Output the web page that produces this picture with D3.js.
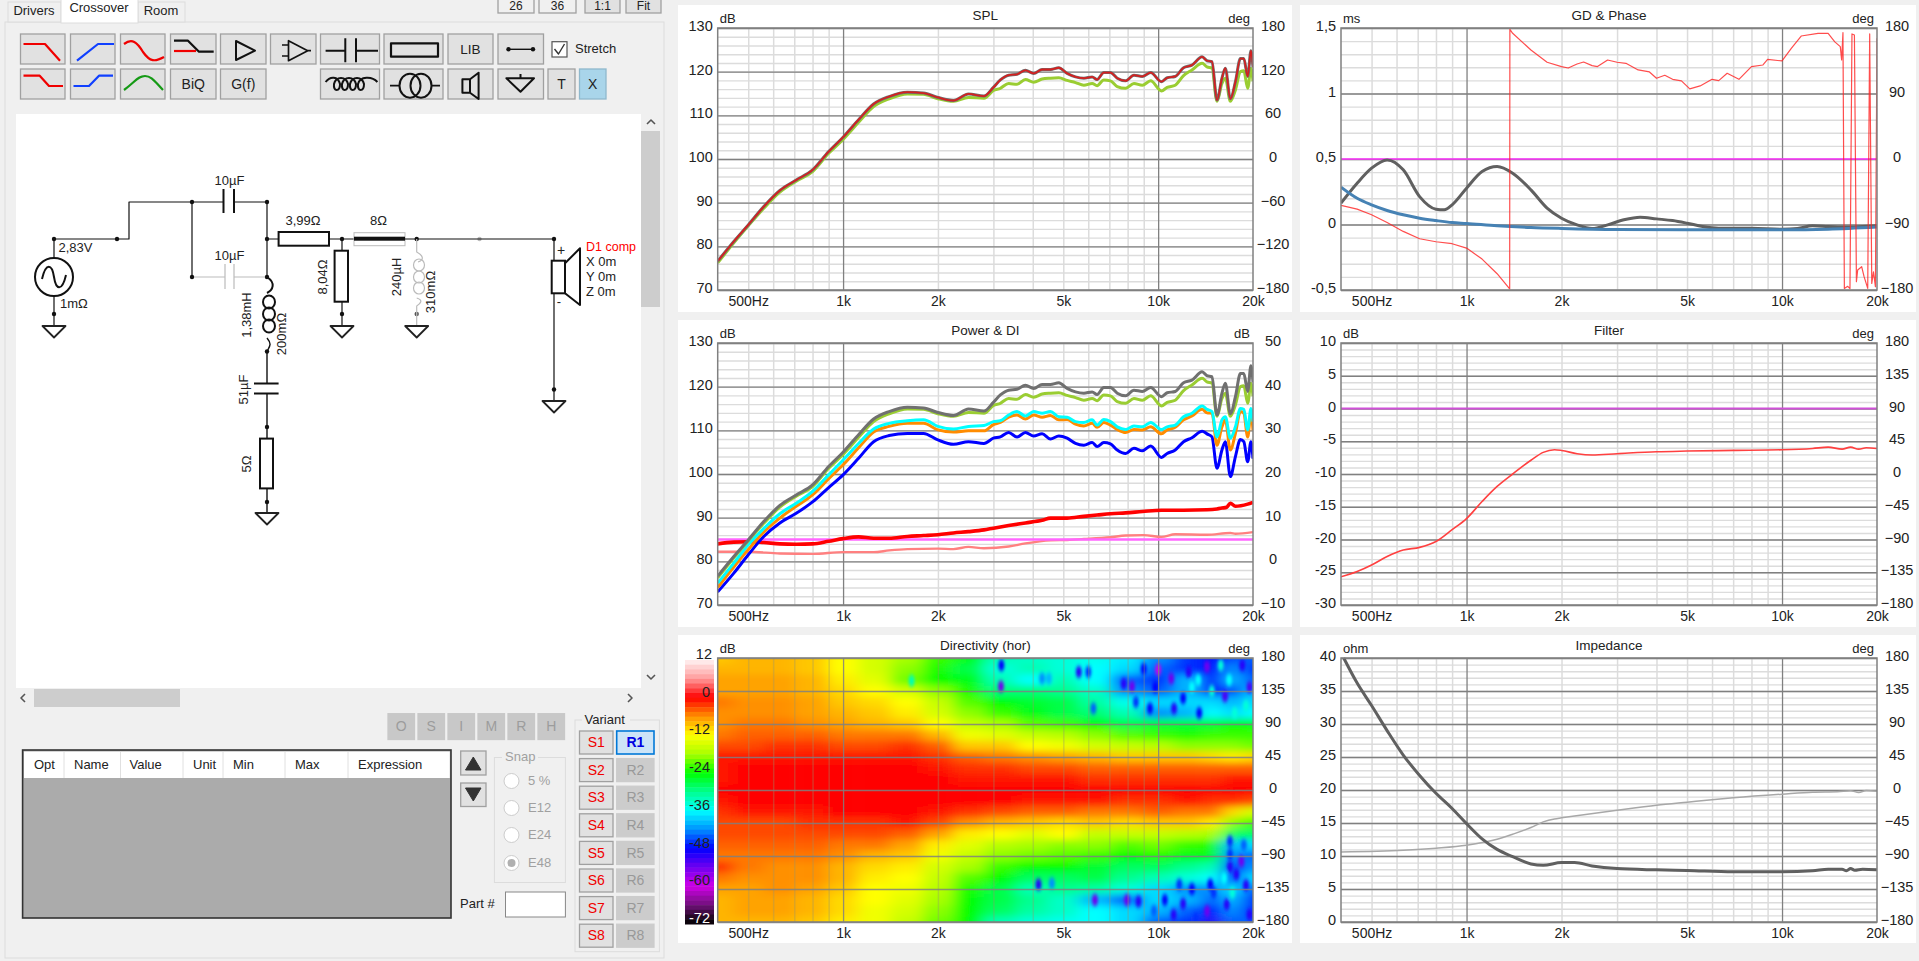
<!DOCTYPE html>
<html>
<head>
<meta charset="utf-8">
<script src="https://cdn.jsdelivr.net/npm/d3@7"></script>
<style>
  html, body { margin: 0; padding: 0; background: #f0f0f0; overflow: hidden; }
  svg { display: block; }
  text { font-family: "Liberation Sans", Arial, sans-serif; }
</style>
</head>
<body>
<div id="app"></div>
<script>
// ---- Daten: gemeinsames Frequenzraster der SPL- und Power-Kurven
const freqHz = [400,450,500,560,630,710,800,900,1000,1120,1250,1400,1600,1800,2000,2240,2500,2800,3000,
  3156,3354,3565,3790,4028,4282,4551,4838,5142,5466,5810,6175,6400,6723,7058,7416,7883,8379,8907,9467,
  10245,10680,11330,12040,12800,13790,14290,14820,15370,15940,16340,16950,17590,18240,18700,19240,19700,20000];

const onAxis = [76.6,81.1,84.9,89.1,92.8,95.2,97.5,101.7,105,109,112.6,114.3,115.3,115.1,114.1,113.4,114.9,114.4,116.4,
  118.1,119.2,119.4,120.3,119.6,120.5,120.5,120.9,119.6,118.8,118.5,118.8,118.2,119.8,119.8,118.5,117.9,119.2,118.9,119.8,
  117.7,118.6,118.9,120.9,121.5,123.4,122.5,122.3,113.5,118.5,120.8,113.8,117.7,123,123,118.9,124.8,121];
const listeningWindow = [76.2,80.8,84.7,88.7,92.4,94.9,97.1,101.3,104.5,108.4,112,113.8,114.9,114.8,113.8,113.2,114.1,113.9,115.7,
  116.2,117.3,117.1,118.2,117.6,118.3,118.5,118.6,118,117.5,116.9,117.3,116.8,118.1,117.9,116.6,116.2,117.3,116.9,117.9,
  115.6,116.4,116.9,119.1,120.4,121.9,121.1,120.8,113.2,117.3,118.5,113.2,115.8,120,120.2,116.2,120.8,117.8];
const earlyReflections = [75,79.6,83.8,87.5,90.9,93.3,96,99.8,103.2,107,110.3,111.6,112.2,112.4,110.9,110.3,110.9,111.1,112,
  112.2,113.5,114.3,113.3,114.3,113.9,114.3,113.1,113,112,111.8,112.4,111.2,112.5,112,110.8,110.2,111,110.8,111.8,
  110.2,110.8,111.2,113.1,113.9,115.6,114.8,114.3,108.5,112.4,113.1,108.2,110.8,115,114.8,110.1,115,112];
const predictedRoom = [74,78.7,82.7,86.7,89.9,92.6,95.2,98.9,102.1,106,109.6,110.9,111.6,111.6,110.1,109.6,109.9,109.9,111.3,
  111.8,113,113.5,112.6,113.5,113,113.4,112.4,112.5,111.4,111,111.6,110.7,111.8,111.2,110.2,109.5,110.2,110.1,110.8,
  109.2,110.1,110.7,112.4,113.3,114.8,114,113.9,106.6,110.8,112.4,105.5,109.3,114.3,113.9,108.5,113.9,110];
const soundPower = [73,77.3,81.5,85.7,88.8,91,93.6,96.9,99.8,103.6,107.4,108.8,109.3,109.3,107.8,106.8,107.4,107,108.2,
  108.5,109.5,108.5,109.5,108.7,109.2,108,108.7,108.2,107,106.6,107.2,106.3,107.2,106.9,105.5,104.7,105.9,105.3,106.4,
  103.8,104.7,105.5,107.4,108.3,109.8,109.2,108.5,101.3,105.5,107.4,99.4,104,107.9,107.4,102.8,107.4,103.5];

// DI-Kurven (rechte Achse)
const diFreq = [400,450,500,560,630,710,800,900,1000,1120,1250,1400,1600,1800,2000,2240,2500,2800,3000,3354,3790,4282,4551,5142,5810,6400,7058,7883,8907,10245,12040,14290,15370,15940,16500,16950,17590,19240,20000];
const diPower = [4,4.4,4.5,4.3,4,3.9,4,4.6,5.2,5.6,5.3,5.3,5.7,5.9,6.1,6.5,6.8,7.2,7.6,8.2,8.8,9.4,9.9,9.9,10.3,10.6,10.9,11.1,11.4,11.7,11.7,11.8,12,12.2,12.4,13.3,12.6,13.1,13.5];
const diErFreq = [400,500,630,800,1000,1250,1400,1600,2000,2240,2500,2800,3354,3790,4551,5142,5810,7058,7883,9000,10245,11330,14290,16950,17590,20000];
const diEr = [2.2,2.2,1.8,1.7,2.1,2.1,2.5,2.8,2.9,2.8,3.3,3,3.4,4.1,4.8,4.9,5.1,5.5,5.9,6,5.6,6.2,6.1,6.5,6.3,6.7];

// GD & Phase
const gdFreq = [400,450,500,560,630,710,800,850,900,1000,1120,1250,1400,1600,1800,2000,2240,2500,2800,3150,3550,4000,4500,5000,5600,6300,8000,10000,11200,12500,14000,16000,18000,20000];
const gdTotal = [.163,.315,.43,.493,.417,.213,.117,.112,.15,.277,.404,.442,.391,.264,.125,.048,-.003,-.03,-.003,.036,.056,.043,.03,.01,-.015,-.028,-.028,-.036,-.03,-.01,-.015,-.02,-.015,-.01];
const gdMinFreq = [400,450,500,560,630,710,800,900,1000,1250,1600,2000,3000,5000,10000,14000,20000];
const gdMin = [.285,.2,.15,.107,.074,.048,.03,.015,.008,-.01,-.023,-.03,-.038,-.04,-.04,-.036,-.02];
const phaseFreq = [400,450,500,560,630,710,800,900,1000,1120,1250,1370,1372,1400,1600,1800,2000,2100,2240,2350,2500,2600,2800,3000,3200,3500,3800,4000,4250,4500,4800,5100,5500,6000,6300,6700,7300,8000,8700,9000,10000,10700,11500,13000,14000,14700,15300,15450,15600,15760,16150,16420,16660,16960,17210,17370,17880,18200,18690,18960,19250,19490,19770,20000];
const phaseDeg = [-63.8,-68.9,-76.6,-87.2,-99.5,-109.6,-113.7,-116.4,-122.4,-137.5,-157.6,-178.6,178,172.7,149.8,132.9,126.9,125,130.6,133.3,128.3,127,136,132.9,131.5,122.4,119.6,110.9,115,109.5,107.3,96.3,100.4,109.5,107.7,117.8,109.5,127,129.2,137,134.7,152.1,169,172.7,172.7,161,154.4,136,173.6,-178,-175,-178,171.8,170.4,-168.6,-152.6,-148,-161.7,-177.8,171.8,-170.9,-154.9,-175.5,165.8];

// Filter
const filterFreq = [400,450,500,560,630,710,800,900,1000,1120,1250,1400,1600,1750,1900,2000,2240,2500,3000,4000,5000,7000,10000,12500,14000,15500,16500,17500,18500,20000];
const filterDb = [-25.7,-24.9,-23.9,-22.6,-21.6,-21.2,-20.3,-18.5,-16.8,-14.2,-11.9,-10,-7.9,-6.7,-6.3,-6.4,-6.9,-7.1,-6.9,-6.6,-6.5,-6.4,-6.3,-6.1,-5.9,-6.2,-5.9,-6.2,-6,-6.1];

// Impedanz
const impFreq = [408,450,500,560,630,710,800,900,1000,1120,1250,1400,1600,1750,2000,2200,2500,3000,4000,5000,7000,10000,12500,14000,15500,16000,16500,17000,18000,20000];
const impOhm = [40,36.2,32.8,29,25.3,22.2,19.5,17.2,14.9,12.6,11,9.9,8.8,8.6,9,9,8.5,8.1,7.9,7.8,7.6,7.6,7.75,8,8,7.75,8.1,7.85,8,7.9];
const impPhaseFreq = [400,630,800,1000,1250,1400,1600,1750,1900,2000,3000,4000,5000,7000,10000,12500,15000,16500,17500,18500,20000];
const impPhase = [-84.5,-82.2,-79.4,-75.4,-67.2,-60.3,-51.2,-43.5,-39.4,-38,-27.6,-20.7,-16.6,-10.7,-5.7,-3,-2.5,-1.1,-3.4,-.7,-1.6];

// Directivity: Zeilen = Winkel, Spalten = Frequenz, Werte in dB
const dirFreq = [400,500,630,800,1000,1250,1600,2000,2500,3150,4000,5000,6300,8000,10000,12500,15000,17000,20000];
const dirAngle = [180,165,150,135,120,105,90,75,60,45,30,15,0,-15,-30,-45,-60,-75,-90,-105,-120,-135,-150,-165,-180];
const dirDb = [
  [-9,-8,-8,-9,-12,-15,-18,-22,-25,-32,-33,-34,-35,-37,-42,-46,-48,-45,-44],
  [-8,-8,-8,-9,-12,-15,-19,-23,-27,-34,-32,-34,-36,-38,-44,-46,-48,-42,-46],
  [-7,-7,-7,-8,-11,-14,-20,-24,-25,-32,-36,-32,-36,-44,-46,-40,-48,-40,-44],
  [-7,-7,-7,-8,-10,-12,-15,-19,-23,-29,-29,-30,-33,-42,-44,-40,-47,-45,-40],
  [-5,-6,-6,-7,-9,-10,-12,-16,-21,-24,-26,-27,-31,-35,-38,-38,-38,-40,-38],
  [-6,-6,-6,-7,-8,-9,-11,-15,-19,-22,-25,-27,-29,-32,-42,-40,-36,-38,-36],
  [-6,-5,-5,-6,-7,-8,-9,-12,-16,-18,-21,-22,-24,-27,-26,-26,-26,-24,-25],
  [-5,-4,-4,-4,-5,-5,-5,-8,-13,-14,-16,-17,-19,-21,-22,-23,-22,-22,-22],
  [-3,-3,-2,-2,-3,-3,-2,-4,-9,-9,-12,-13,-15,-16,-17,-19,-19,-19,-20],
  [-1,-1,-1,-1,-1,-1,-1,-2,-4,-5,-6,-7,-8,-9,-9,-9,-10,-11,-10],
  [-1,0,0,0,0,0,0,-1,-2,-2,-3,-3,-4,-4,-4,-4,-4,-4,-4],
  [-1,0,0,0,0,0,0,0,-1,-1,-1,-1,-2,-2,-2,-2,-2,-1,-1],
  [0,0,0,0,0,0,0,0,0,0,0,0,0,0,0,0,0,0,0],
  [-1,0,0,0,0,0,0,0,0,0,-1,-1,-1,-2,-2,-1,-2,-2,-3],
  [-2,-1,-1,-1,0,0,0,-1,-2,-3,-4,-4,-5,-5,-4,-5,-5,-10,-15],
  [-3,-3,-3,-2,-2,-2,-1,-3,-6,-8,-9,-10,-9,-10,-9,-9,-11,-19,-22],
  [-3,-3,-3,-3,-3,-3,-4,-7,-11,-12,-14,-12,-16,-16,-16,-17,-18,-28,-28],
  [-4,-4,-4,-4,-5,-5,-7,-11,-14,-17,-18,-19,-19,-21,-20,-22,-23,-40,-38],
  [-5,-5,-5,-5,-6,-8,-9,-13,-16,-19,-20,-21,-22,-24,-23,-25,-25,-42,-44],
  [-2,-5,-6,-6,-8,-10,-11,-15,-18,-22,-24,-24,-26,-28,-28,-30,-32,-46,-42],
  [-5,-6,-6,-6,-8,-11,-12,-16,-21,-24,-28,-28,-27,-30,-32,-34,-36,-46,-38],
  [-7,-7,-6,-7,-9,-12,-13,-17,-23,-27,-32,-30,-31,-34,-38,-42,-42,-38,-44],
  [-8,-7,-7,-8,-10,-12,-14,-18,-24,-27,-30,-33,-40,-44,-38,-40,-44,-40,-46],
  [-8,-7,-7,-8,-10,-13,-15,-19,-24,-28,-31,-33,-36,-38,-40,-44,-48,-42,-46],
  [-8,-8,-8,-9,-11,-13,-16,-20,-24,-32,-34,-35,-36,-38,-44,-46,-50,-44,-44]
];
// einzelne Löcher und Streifen im Polardiagramm: [Frequenz, Winkel, dB]
const dirSpots = [[3180,170,-48],[3170,141,-54],[4282,152,-42],[4500,152,-40],[5600,161,-50],[6000,161,-46],[6230,111,-44],[7780,145,-50],[8260,141,-54],
  [9420,111,-48],[11230,111,-50],[4170,-129,-50],[4600,-127,-42],[6300,-150,-54],[7960,-150,-54],[8660,-152,-50],[11670,-129,-46],[14640,-129,-48],
  [16910,-88,-46],[18370,-97,-54],[17700,-115,-50],[14290,168,-54],[10000,164,-60],[11000,152,-54],[12500,161,-50],[16300,128,-52],[11200,-170,-50],[14300,-165,-54],[16500,-156,-50],[1650,149,-32],
  [12800,140,-36],[13500,105,-48],[9000,165,-48],[9800,140,-48],[8500,120,-46],[12000,125,-48],[15800,170,-34],[16800,150,-36],[18500,170,-50],[19500,140,-52],[19000,115,-34],[17500,105,-34],[14800,135,-34],[13400,150,-36],
  [10500,-150,-48],[12000,-155,-50],[13200,-175,-46],[15000,-140,-46],[16200,-120,-36],[19000,-130,-50],[19500,-170,-50],[17200,-140,-34],[18700,-75,-44],[16900,-70,-46],[16900,-105,-50],[12800,-135,-48],[9700,-165,-44]];

// Farbskala Directivity
const colorStops = [12,6,0,-6,-12,-18,-24,-30,-36,-42,-48,-54,-60,-66,-70,-72];
const colorValues = ["#fff4f4","#ff9a9a","#ff0000","#ff9000","#ffff00","#a8ff00","#00ff00","#00ff90","#00ffff","#0090ff","#0000ff","#7000f0","#d000e8","#70107a","#200820","#000000"];
const colorBarLabels = [12,0,-12,-24,-36,-48,-60,-72];

// Achsen
const xDomain = [400, 20000];
const xLabeled = [500, 1000, 2000, 5000, 10000, 20000];
const xMinor = [500,600,700,800,900,2000,3000,4000,5000,6000,7000,8000,9000];
const xMajor = [1000, 10000];
const deg60 = [180,120,60,0,-60,-120,-180];
const deg45 = [180,135,90,45,0,-45,-90,-135,-180];
const deg90 = [180,90,0,-90,-180];
const splTicks = [130,120,110,100,90,80,70];

// Oberfläche links
const tabLabels = ["Drivers", "Crossover", "Room"];
const paramColumns = ["Opt","Name","Value","Unit","Min","Max","Expression"];
const flagButtons = ["O","S","I","M","R","H"];
const snapOptions = ["5 %","E12","E24","E48"];

const width = 1919, height = 961;
const ink = "#222";
const svg = d3.select("#app").append("svg").attr("width", width).attr("height", height);
svg.append("rect").attr("width", width).attr("height", height).attr("fill", "#f0f0f0");
const defs = svg.append("defs");
const zip = (xs, ys) => xs.map((x, i) => [x, ys[i]]);
const commaTick = d => String(d).replace(".", ",");

const colorScale = d3.scaleLinear().domain(colorStops).range(colorValues);

// Filter für die weichen Übergänge im Polardiagramm
const blur = defs.append("filter").attr("id", "dirBlur").attr("filterUnits", "userSpaceOnUse")
  .attr("x", 600).attr("y", 600).attr("width", 800).attr("height", 400);
blur.append("feGaussianBlur").attr("stdDeviation", "8 3.6");
const blurSpot = defs.append("filter").attr("id", "spotBlur").attr("filterUnits", "userSpaceOnUse")
  .attr("x", 600).attr("y", 600).attr("width", 800).attr("height", 400);
blurSpot.append("feGaussianBlur").attr("stdDeviation", "1.4 2.2");

// Rahmen eines Diagramms samt Raster und Achsen
function drawPanel(cfg) {
  const [px0, px1, py0, py1] = cfg.panel;
  const [x0, x1, y0, y1] = cfg.plot;
  const g = svg.append("g");
  g.append("rect").attr("x", px0).attr("y", py0).attr("width", px1 - px0).attr("height", py1 - py0).attr("fill", "#fff");

  const x = d3.scaleLog().domain(xDomain).range([x0, x1]);
  const y = d3.scaleLinear().domain(cfg.left).range([y1, y0]);
  const yR = d3.scaleLinear().domain(cfg.right).range([y1, y0]);

  if (cfg.underlay) cfg.underlay(g, x, y, yR);

  const overlay = cfg.underlay != null;
  const gridMinor = overlay ? "rgba(150,150,110,.35)" : "#dcdcdc";
  const gridMajor = overlay ? "rgba(128,128,128,.85)" : "#808080";

  // Raster
  if (cfg.minor) {
    g.append("g").attr("transform", `translate(${x0},0)`)
      .call(d3.axisLeft(y).tickValues(cfg.minor).tickSize(-(x1 - x0)).tickFormat(""))
      .call(a => a.select(".domain").remove())
      .call(a => a.selectAll("line").attr("stroke", gridMinor).attr("stroke-width", 1.4));
  }
  g.append("g").attr("transform", `translate(0,${y1})`)
    .call(d3.axisBottom(x).tickValues(xMinor).tickSize(-(y1 - y0)).tickFormat(""))
    .call(a => a.select(".domain").remove())
    .call(a => a.selectAll("line").attr("stroke", gridMinor).attr("stroke-width", 1.5));
  g.append("g").attr("transform", `translate(${x0},0)`)
    .call(d3.axisLeft(cfg.gridScale === "right" ? yR : y).tickValues(cfg.gridScale === "right" ? cfg.rightTicks : cfg.leftTicks)
      .tickSize(-(x1 - x0)).tickFormat(""))
    .call(a => a.select(".domain").remove())
    .call(a => a.selectAll("line").attr("stroke", gridMajor).attr("stroke-width", 1.3));
  g.append("g").attr("transform", `translate(0,${y1})`)
    .call(d3.axisBottom(x).tickValues(xMajor).tickSize(-(y1 - y0)).tickFormat(""))
    .call(a => a.select(".domain").remove())
    .call(a => a.selectAll("line").attr("stroke", gridMajor).attr("stroke-width", 1.3));

  // Kurven
  const clipId = "clip" + cfg.title.replace(/\W/g, "");
  defs.append("clipPath").attr("id", clipId).append("rect")
    .attr("x", x0).attr("y", y0 - 1).attr("width", x1 - x0).attr("height", y1 - y0 + 2);
  const curves = g.append("g").attr("clip-path", `url(#${clipId})`);
  (cfg.series || []).forEach(s => {
    const sy = s.axis === "right" ? yR : y;
    const line = d3.line().x(d => x(d[0])).y(d => sy(d[1]))
      .curve(s.sharp ? d3.curveLinear : d3.curveMonotoneX);
    curves.append("path").datum(s.data).attr("d", line).attr("fill", "none")
      .attr("stroke", s.color).attr("stroke-width", s.w).attr("stroke-opacity", s.op || 1)
      .attr("stroke-linejoin", "round");
  });

  // Rahmen
  g.append("rect").attr("x", x0).attr("y", y0).attr("width", x1 - x0).attr("height", y1 - y0)
    .attr("fill", "none").attr("stroke", "#808080").attr("stroke-width", 1.5);

  // Beschriftung
  g.append("g").attr("transform", `translate(0,${y1})`)
    .call(d3.axisBottom(x).tickValues(xLabeled).tickSize(0).tickPadding(6)
      .tickFormat(d => d === 500 ? "500Hz" : d / 1000 + "k"))
    .call(a => a.select(".domain").remove())
    .call(a => a.selectAll("text").attr("font-size", 14).style("font-family", "Liberation Sans").attr("fill", ink));
  if (cfg.leftTicks && !cfg.hideLeft) {
    g.append("g").attr("transform", `translate(${x0},-2)`)
      .call(d3.axisLeft(y).tickValues(cfg.leftTicks).tickSize(0).tickPadding(5).tickFormat(cfg.leftFormat || (d => d)))
      .call(a => a.select(".domain").remove())
      .call(a => a.selectAll("text").attr("font-size", 14.5).style("font-family", "Liberation Sans").attr("fill", ink));
  }
  g.append("g").attr("transform", `translate(${x1 + 20},-2)`)
    .call(d3.axisRight(yR).tickValues(cfg.rightTicks).tickSize(0).tickPadding(0))
    .call(a => a.select(".domain").remove())
    .call(a => a.selectAll("text").attr("font-size", 14.5).attr("text-anchor", "middle").style("font-family", "Liberation Sans").attr("fill", ink));

  const label = (tx, ty, s, anchor, size) => g.append("text").attr("x", tx).attr("y", ty)
    .attr("text-anchor", anchor).attr("font-size", size).attr("fill", ink).text(s);
  label((x0 + x1) / 2, y0 - 8, cfg.title, "middle", 13.5);
  label(x0 + 2, y0 - 5, cfg.leftUnit, "start", 13);
  label(x1 - 3, y0 - 5, cfg.rightUnit, "end", 13);
}

const col1 = { panel: [678, 1292], plot: [717.7, 1253] };
const col2 = { panel: [1300, 1916], plot: [1341, 1877] };
const row1 = { panel: [5, 312], plot: [28, 290] };
const row2 = { panel: [320, 627], plot: [343, 605] };
const row3 = { panel: [635, 943], plot: [658, 922] };
const place = (c, r) => ({ panel: [...c.panel, ...r.panel], plot: [...c.plot, ...r.plot] });

drawPanel({ ...place(col1, row1), title: "SPL", leftUnit: "dB", rightUnit: "deg",
  left: [70, 130], right: [-180, 180], leftTicks: splTicks, rightTicks: deg60, minor: d3.range(70, 131, 2),
  series: [
    { data: zip(freqHz, listeningWindow), color: "#9acd32", w: 3 },
    { data: zip(freqHz, onAxis), color: "#707070", w: 3 },
    { data: zip(freqHz, onAxis), color: "#d42020", w: 1.8 }
  ] });

drawPanel({ ...place(col2, row1), title: "GD & Phase", leftUnit: "ms", rightUnit: "deg",
  left: [-0.5, 1.5], right: [-180, 180], leftTicks: [1.5, 1, 0.5, 0, -0.5], leftFormat: commaTick, rightTicks: deg90,
  minor: d3.range(-5, 16).map(d => d / 10),
  series: [
    { data: zip(xDomain, [0.5, 0.5]), color: "#ff30ff", w: 1.6 },
    { data: zip(gdFreq, gdTotal), color: "#606060", w: 3 },
    { data: zip(gdMinFreq, gdMin), color: "#4682b4", w: 3 },
    { data: zip(phaseFreq, phaseDeg), color: "#ff2020", w: 1.2, op: .8, axis: "right", sharp: true }
  ] });

drawPanel({ ...place(col1, row2), title: "Power & DI", leftUnit: "dB", rightUnit: "dB",
  left: [70, 130], right: [-10, 50], leftTicks: splTicks, rightTicks: [50,40,30,20,10,0,-10], minor: d3.range(70, 131, 2),
  series: [
    { data: zip(diErFreq, diEr), color: "#ff8080", w: 2.4, axis: "right" },
    { data: zip(xDomain, [5, 5]), color: "#ff66ff", w: 2.6, axis: "right" },
    { data: zip(diFreq, diPower), color: "#ff0000", w: 3.6, axis: "right" },
    { data: zip(freqHz, soundPower), color: "#0000ff", w: 3 },
    { data: zip(freqHz, predictedRoom), color: "#ff8c00", w: 3 },
    { data: zip(freqHz, earlyReflections), color: "#00ffff", w: 3 },
    { data: zip(freqHz, listeningWindow), color: "#9acd32", w: 3 },
    { data: zip(freqHz, onAxis), color: "#707070", w: 3 }
  ] });

drawPanel({ ...place(col2, row2), title: "Filter", leftUnit: "dB", rightUnit: "deg",
  left: [-30, 10], right: [-180, 180], leftTicks: [10,5,0,-5,-10,-15,-20,-25,-30], rightTicks: deg45, minor: d3.range(-30, 11),
  series: [
    { data: zip(xDomain, [0, 0]), color: "#d050d8", w: 2.2 },
    { data: zip(filterFreq, filterDb), color: "#ff4040", w: 1.6 }
  ] });

drawPanel({ ...place(col1, row3), title: "Directivity (hor)", leftUnit: "dB", rightUnit: "deg", hideLeft: true,
  left: [-180, 180], right: [-180, 180], rightTicks: deg45, gridScale: "right",
  underlay: (g, x, y) => {
    defs.append("clipPath").attr("id", "clipDir").append("rect")
      .attr("x", col1.plot[0]).attr("y", row3.plot[0])
      .attr("width", col1.plot[1] - col1.plot[0]).attr("height", row3.plot[1] - row3.plot[0]);
    const clipped = g.append("g").attr("clip-path", "url(#clipDir)");
    const cells = clipped.append("g").attr("filter", "url(#dirBlur)");
    // Spaltengrenzen liegen logarithmisch mittig zwischen den Stützstellen
    const edges = dirFreq.map((f, i) => i === 0 ? x(f) - 40 : x(Math.sqrt(f * dirFreq[i - 1])));
    edges.push(x(dirFreq[dirFreq.length - 1]) + 40);
    dirAngle.forEach((a, r) => {
      dirFreq.forEach((f, c) => {
        const rowTop = r === 0 ? y(a) - 30 : y(a + 7.5);
        const rowBottom = r === dirAngle.length - 1 ? y(a) + 30 : y(a - 7.5);
        cells.append("rect").attr("x", edges[c]).attr("y", rowTop)
          .attr("width", edges[c + 1] - edges[c] + .5).attr("height", rowBottom - rowTop + .5)
          .attr("fill", colorScale(dirDb[r][c]));
      });
    });
    const spots = clipped.append("g").attr("filter", "url(#spotBlur)");
    dirSpots.forEach(([f, a, v]) => {
      spots.append("ellipse").attr("cx", x(f)).attr("cy", y(a)).attr("rx", 3).attr("ry", 6)
        .attr("fill", colorScale(v));
    });
  } });

drawPanel({ ...place(col2, row3), title: "Impedance", leftUnit: "ohm", rightUnit: "deg",
  left: [0, 40], right: [-180, 180], leftTicks: [40,35,30,25,20,15,10,5,0], rightTicks: deg45, minor: d3.range(0, 41),
  series: [
    { data: zip(impPhaseFreq, impPhase), color: "#a8a8a8", w: 1.5, axis: "right" },
    { data: zip(impFreq, impOhm), color: "#606060", w: 3 }
  ] });

// Farbbalken des Polardiagramms
const barY = d3.scaleLinear().domain([12, -72]).range([660, 924]);
const bar = svg.append("g");
d3.range(12, -72, -1.5).forEach(v => {
  bar.append("rect").attr("x", 685).attr("width", 29).attr("y", barY(v)).attr("height", barY(v - 1.5) - barY(v) + .5)
    .attr("fill", colorScale(v - .75));
});
colorBarLabels.forEach(v => {
  bar.append("text").attr("x", v === 12 ? 712 : 710).attr("y", barY(v) - 1).attr("text-anchor", "end").attr("font-size", 14.5)
    .attr("fill", v === -72 ? "#fff" : ink).text(v);
});

// ---- Oberfläche links: Tabs, Schaltflächen, Schaltplan, Tabelle
const ui = svg.append("g");
const rect = (x0, y0, x1, y1, fill, stroke, sw) => ui.append("rect")
  .attr("x", x0).attr("y", y0).attr("width", x1 - x0).attr("height", y1 - y0)
  .attr("fill", fill).attr("stroke", stroke || "none").attr("stroke-width", sw || 1);
const path = (d, stroke, sw, fill) => ui.append("path").attr("d", d).attr("fill", fill || "none")
  .attr("stroke", stroke).attr("stroke-width", sw || 1).attr("stroke-linejoin", "round");
const label = (s, x, y, opts = {}) => {
  const t = ui.append("text").attr("x", x).attr("y", y).attr("font-size", opts.size || 13)
    .attr("text-anchor", opts.anchor || "middle").attr("dominant-baseline", "middle")
    .attr("fill", opts.color || ink).attr("font-weight", opts.weight || "normal").text(s);
  if (opts.rotate) t.attr("transform", `rotate(${opts.rotate} ${x} ${y})`);
  return t;
};
const button = (x0, y0, x1, y1, s, opts = {}) => {
  rect(x0, y0, x1, y1, opts.fill || "#e1e1e1", opts.stroke || "#a0a0a0", opts.sw || 1.3);
  if (s) label(s, (x0 + x1) / 2, (y0 + y1) / 2 + 1, opts);
};

// Tabs
rect(5, 22, 664, 958, "#f0f0f0", "#dcdcdc", 1);
rect(8, 2, 61, 22, "#f0f0f0", "#dcdcdc", 1);
rect(138, 2, 185, 22, "#f0f0f0", "#dcdcdc", 1);
rect(61, -2, 138, 23, "#fff", "#dcdcdc", 1);
label(tabLabels[0], 34, 11.5);
label(tabLabels[1], 99, 9);
label(tabLabels[2], 161, 11.5);

// obere Schaltflächen
[[498,534,"26","#f0f0f0"],[539,576,"36","#f0f0f0"],[585,620,"1:1"],[626,661,"Fit"]].forEach(b => {
  button(b[0], -6, b[1], 13, null, { fill: b[3] });
  label(b[2], (b[0] + b[1]) / 2, 6.5, { size: 12 });
});

[[20.5,65],[70.5,115],[120.5,165],[170.5,216],[220.5,266],[270.5,316],[320.5,379.5],[384,443],[448,493],[498,543.5]]
  .forEach(b => button(b[0], 34, b[1], 64));
[[20.5,65],[70.5,115],[120.5,165],[170.5,216,"BiQ"],[220.5,266,"G(f)"],[320.5,379.5],[384,443],[448,493],[498,543.5],[548,575,"T"]]
  .forEach(b => button(b[0], 69, b[1], 99, b[2], { size: 14 }));
button(579.5, 69, 606, 99, "X", { fill: "#a9d5ea", stroke: "#8fb8cc", size: 14 });
label("LIB", 470.5, 50, { size: 13.5 });

path("M23.5,44H45L60,60.7", "#f00000", 2.2);
path("M77,60.7L98,44H114", "#1040ff", 2.2);
path("M124,44C132,38 137,42 143,52C150,62 155,62 164,57", "#f00000", 2.2);
path("M174,40.7H188L199,51.7H213.7", "#111", 2.2);
path("M174,51H196", "#f00000", 2.2);
path("M236,41V60L255,50.7Z", "#111", 2);
path("M288.5,40.7V60.7L307.7,50.7ZM282,45H288.5M282,56H288.5M307.7,50.7H311", "#111", 1.7);
path("M325.6,50.7H345M345.3,38.3V62.3M356,38.3V62.3M356,50.7H378", "#111", 2);
path("M391,43.3H438V56.7H391Z", "#111", 2.2);
path("M508.5,49.3H533", "#111", 1.4);
ui.selectAll(null).data([[508.5, 49.3], [533, 49.3]]).join("circle")
  .attr("cx", d => d[0]).attr("cy", d => d[1]).attr("r", 2.2).attr("fill", "#111");
path("M23.5,75.7H39.7L49,86H63", "#f00000", 2.2);
path("M73.5,86H89L99,75.7H113", "#1040ff", 2.2);
path("M124,90C135,82 138,76 145,76C152,76 155,82 163,90", "#159a15", 2.2);
path("M325.6,82C330,76 338,76 340,84C340,92 333,92 334,84C336,76 346,76 348,84C348,92 341,92 342,84C344,76 354,76 356,84C356,92 349,92 350,84C352,76 362,76 364,84C364,92 357,92 358,84C360,76 372,76 377.4,82", "#111", 2);
path("M390,85.7H399M432,85.7H440", "#111", 1.7);
ui.selectAll(null).data([410, 421]).join("ellipse").attr("cx", d => d).attr("cy", 85.7).attr("rx", 10.5).attr("ry", 12)
  .attr("fill", "none").attr("stroke", "#111").attr("stroke-width", 2);
path("M462.4,79.3H470V92.7H462.4ZM470,79.3L478.6,72.7V99L470,92.7", "#111", 2);
path("M520.5,74V78.3M506.4,78.3H534L520.5,91.7Z", "#111", 2);

// Checkbox Stretch
rect(552, 41.7, 567, 57, "#fff", "#555", 1.2);
path("M554.5,49L558.5,54L564.5,44", "#333", 1.4);
label("Stretch", 575, 50, { anchor: "start" });

// Schaltplan-Fläche und Bildlaufleisten
rect(16, 114, 641, 688, "#fff");
rect(641, 131, 660, 307, "#cdcdcd");
rect(34, 689, 180, 707, "#cdcdcd");
path("M647,124L651,120L655,124", "#555", 1.6);
path("M647,675L651,679L655,675", "#555", 1.6);
path("M25,694L21,698L25,702", "#555", 1.6);
path("M628,694L632,698L628,702", "#555", 1.6);

const wire = "#111";
const ghost = "#bbbbbb";
const node = (x, y, c) => ui.append("circle").attr("cx", x).attr("cy", y).attr("r", 2.2).attr("fill", c || wire);
const ground = (x, y) => path(`M${x - 11.5},${y}H${x + 11.5}L${x},${y + 11.5}Z`, "#222", 1.8);

path("M54,239H129V202H223.5M234,202H267V239M192,202V277", wire, 1.2);
path("M223.5,189V213M234,189V213", wire, 2);
path("M192,277H225M234,277H267", ghost, 1.2);
path("M225,264V289M234,264V289", ghost, 1.2);
path("M267,239V277", wire, 1.2);
[[192,202],[267,202],[54,239],[117,239],[267,239],[192,277],[267,277],[342,239],[54,314],[342,314],[267,351.5],[267,427],[267,502],[554,239],[554,389.5]]
  .forEach(d => node(d[0], d[1]));
node(416.7, 239);
node(416.7, 314, "#555");
node(479.5, 239, "#bbb");

// Quelle
path("M54,239V258M54,296V326", wire, 1.2);
ui.append("ellipse").attr("cx", 54).attr("cy", 277).attr("rx", 19).attr("ry", 19)
  .attr("fill", "#fff").attr("stroke", "#111").attr("stroke-width", 2);
path("M42,279C46,262 52,264 54,277C56,290 62,292 66,275", "#111", 2);
ground(54, 326);

// Abzweig nach Masse
path("M267,277C276,283 273,290 267,293", wire, 2);
path("M267,338C272,344 270,346 267,351.5V383.4M267,393.6V438.6M267,488.4V513", wire, 1.4);
ui.selectAll(null).data([302, 314, 326]).join("ellipse").attr("cx", 269).attr("cy", d => d).attr("rx", 6).attr("ry", 6.5)
  .attr("fill", "none").attr("stroke", "#111").attr("stroke-width", 2);
path("M254,383.4H278.6M254,393.6H278.6", wire, 2);
rect(260, 438.6, 273, 488.4, "#fff", "#111", 2);
ground(267, 513);

// Längszweig
rect(278.6, 232, 329, 245.7, "#fff", "#111", 2);
path("M267,239H278.6M329,239H354", wire, 1.2);
path("M342,239V250.7M342,301.7V326", wire, 1.2);
rect(334.6, 250.7, 348, 301.7, "#fff", "#111", 2);
ground(342, 326);
rect(354, 232.7, 405, 245.7, "#fff", ghost, 1);
rect(354, 236.7, 405, 240.7, "#111");
path("M405,239H554", wire, 1.2);
path("M416.7,239V252C424,256 424,260 418,262M416.7,298C424,300 420,304 416.7,306V326", ghost, 1.2);
ui.selectAll(null).data([265, 277, 288]).join("ellipse").attr("cx", 419).attr("cy", d => d).attr("rx", 5.5).attr("ry", 6)
  .attr("fill", "none").attr("stroke", ghost).attr("stroke-width", 1.2);
ground(416.7, 326);

// Lautsprecher
path("M554,239V260.7M554,293.3V401", wire, 1.2);
rect(551.7, 260.7, 565, 293.3, "#fff", "#111", 2);
path("M565,263.3L580,248.3V305L565,293.3", "#111", 2);
label("+", 561, 251.5, { size: 14 });
label("-", 559, 302.5, { size: 13 });
ground(554, 401);

// Beschriftungen Schaltplan
label("10µF", 229.5, 182);
label("10µF", 229.5, 257);
label("3,99Ω", 303, 222);
label("8Ω", 378.6, 222);
label("2,83V", 58.5, 249, { anchor: "start" });
label("1mΩ", 60, 305, { anchor: "start" });
label("1,38mH", 248, 315, { rotate: -90 });
label("200mΩ", 283, 334, { rotate: -90 });
label("51µF", 245, 389.5, { rotate: -90 });
label("5Ω", 248, 464, { rotate: -90 });
label("8,04Ω", 323.5, 277, { rotate: -90 });
label("240µH", 397.4, 277, { rotate: -90 });
label("310mΩ", 431.6, 292, { rotate: -90 });
label("D1 comp", 586, 248, { anchor: "start", color: "#ff0000", size: 12.5 });
label("X 0m", 586, 263, { anchor: "start" });
label("Y 0m", 586, 278, { anchor: "start" });
label("Z 0m", 586, 293, { anchor: "start" });

// Flags über der Tabelle
flagButtons.forEach((s, i) => {
  const x0 = 388 + i * 30;
  button(x0, 713.7, x0 + 26.5, 739.5, s, { fill: "#c8c8c8", stroke: "#c8c8c8", color: "#9c9c9c", size: 14 });
});

// Parametertabelle
rect(22.6, 750, 451, 918, "#ababab", "#333", 1.6);
rect(24, 751.5, 449.8, 778, "#fff");
[64,120.5,183,223,285,348].forEach(x => path(`M${x},752V778`, "#e0e0e0", 1));
[34,74,129.5,193,233,295,358].forEach((x, i) => label(paramColumns[i], x, 765.6, { anchor: "start" }));

// Pfeile
button(460.7, 751, 486, 775);
button(460.7, 783, 486, 806.5);
path("M465.5,770L473.3,757L481,770Z", "#333", 1, "#333");
path("M465.5,788L473.3,801L481,788Z", "#333", 1, "#333");

// Snap-Gruppe
rect(494.4, 757.5, 565.4, 882.5, "none", "#dcdcdc", 1);
rect(502, 752, 538, 764, "#f0f0f0");
label("Snap", 505, 758, { anchor: "start", color: "#a0a0a0" });
[781, 808, 835, 863].forEach((y, i) => {
  ui.append("circle").attr("cx", 511.5).attr("cy", y).attr("r", 7.5).attr("fill", "#fff").attr("stroke", "#ccc");
  label(snapOptions[i], 528, y + 1, { anchor: "start", color: "#a0a0a0" });
});
ui.append("circle").attr("cx", 511.5).attr("cy", 863).attr("r", 4).attr("fill", "#b0b0b0");

label("Part #", 460, 904.6, { anchor: "start" });
rect(505.5, 892, 565.4, 917, "#fff", "#888", 1);

// Varianten
rect(575, 720, 659.4, 951.7, "none", "#dcdcdc", 1);
rect(582, 714, 630, 727, "#f0f0f0");
label("Variant", 584.6, 720.6, { anchor: "start" });
d3.range(8).forEach(i => {
  const y0 = 731 + i * 27.6;
  button(579.5, y0, 613, y0 + 23, "S" + (i + 1), { color: "#f00000", size: 14 });
  if (i === 0) button(616.7, y0, 654, y0 + 23, "R1", { fill: "#cce4f7", stroke: "#0078d7", sw: 1.6, size: 14, weight: "bold", color: "#0000e0" });
  else button(616.7, y0, 654, y0 + 23, "R" + (i + 1), { fill: "#cccccc", stroke: "#cccccc", size: 14, color: "#999" });
});
</script>
</body>
</html>
